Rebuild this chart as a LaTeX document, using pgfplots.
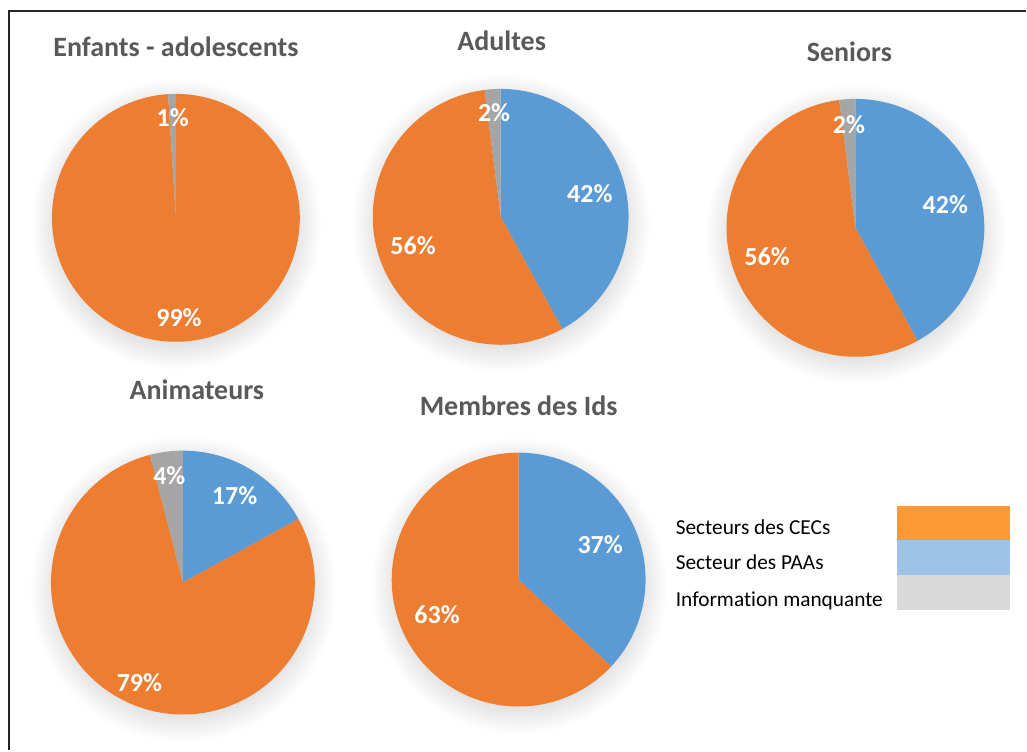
\documentclass[border=0pt]{standalone}
\usepackage{pgfplots}
\pgfplotsset{compat=1.18}
\usepackage{pgfplotstable}
\usepackage{fontspec}
\setmainfont{Carlito}[Ligatures=NoCommon]
\definecolor{cBlue}{HTML}{5B9BD5}
\definecolor{cOrange}{HTML}{ED7D31}
\definecolor{cGray}{HTML}{A5A5A5}
\definecolor{lOrange}{HTML}{FF9933}
\definecolor{lBlue}{HTML}{9DC3E6}
\definecolor{lGray}{HTML}{D9D9D9}
\definecolor{titleGray}{HTML}{595959}
\colorlet{slice0}{cBlue}
\colorlet{slice1}{cOrange}
\colorlet{slice2}{cGray}
\pgfdeclareradialshading{pieshadow}{\pgfpoint{0bp}{0bp}}{color(0bp)=(black!12); color(20bp)=(black!12); color(25bp)=(white); color(50bp)=(white)}

% share: PAA (blue), CEC (orange), missing (gray); lr: label radius factor
\pgfplotstableread{
share lr
0  0.72
99 0.81
1  0.81
}\enfants
\pgfplotstableread{
share lr
42 0.72
56 0.72
2  0.82
}\adultes
\pgfplotstableread{
share lr
42 0.72
56 0.72
2  0.80
}\seniors
\pgfplotstableread{
share lr
17 0.77
79 0.83
4  0.82
}\animateurs
\pgfplotstableread{
share lr
37 0.70
63 0.70
0  0.80
}\membres

\newcommand\drawpie[4]{%
  \shade[shading=pieshadow] (axis cs:#2,{#3-6}) circle[radius={(#4+22)*0.75pt}];
  \xdef\cur{90}%
  \foreach \i in {0,1,2}{%
    \pgfplotstablegetelem{\i}{share}\of{#1}\let\sh\pgfplotsretval
    \pgfmathsetmacro\endang{\cur-3.6*\sh}%
    \ifdim\sh pt>0pt
      \fill[slice\i] (axis cs:#2,#3) -- (axis cs:{#2+#4*cos(\cur)},{#3+#4*sin(\cur)}) arc[start angle=\cur, end angle=\endang, radius={#4*0.75pt}] -- cycle;
    \fi
    \xdef\cur{\endang}%
  }%
  \xdef\cur{90}%
  \foreach \i in {0,1,2}{%
    \pgfplotstablegetelem{\i}{share}\of{#1}\let\sh\pgfplotsretval
    \pgfplotstablegetelem{\i}{lr}\of{#1}\let\lr\pgfplotsretval
    \pgfmathsetmacro\endang{\cur-3.6*\sh}%
    \pgfmathsetmacro\midang{\cur-1.8*\sh}%
    \ifdim\sh pt>0pt
      \node[text=white, font=\bfseries\fontsize{19.5}{22}\selectfont, inner sep=0pt] at (axis cs:{#2+\lr*#4*cos(\midang)},{#3+\lr*#4*sin(\midang)}) {\sh\%};
    \fi
    \xdef\cur{\endang}%
  }%
}

\begin{document}
\begin{tikzpicture}
\begin{axis}[
  x=0.75pt, y=0.75pt,
  xmin=0, xmax=1027, ymin=0, ymax=751,
  hide axis, scale only axis, clip=false,
]
\pgfplotsextra{
  \path (axis cs:0,0) rectangle (axis cs:1027,751);
  \drawpie{\enfants}{176}{533}{124}
  \drawpie{\adultes}{501}{534}{128}
  \drawpie{\seniors}{856}{523}{129}
  \drawpie{\animateurs}{183}{168}{132}
  \drawpie{\membres}{519}{171}{127}
  \tikzset{ttl/.style={text=titleGray, font=\bfseries\fontsize{21}{24}\selectfont, inner sep=0pt}}
  \node[ttl] at (axis cs:176,704) {Enfants - adolescents};
  \node[ttl] at (axis cs:502,710) {Adultes};
  \node[ttl] at (axis cs:850,699) {Seniors};
  \node[ttl] at (axis cs:197,361) {Animateurs};
  \node[ttl] at (axis cs:519,345) {Membres des Ids};
  \fill[lOrange] (axis cs:898,245) rectangle (axis cs:1011,211);
  \fill[lBlue] (axis cs:898,211) rectangle (axis cs:1011,176);
  \fill[lGray] (axis cs:898,176) rectangle (axis cs:1011,141);
  \tikzset{lg/.style={anchor=west, font=\fontsize{16}{18}\selectfont, inner sep=0pt}}
  \node[lg] at (axis cs:676,223) {Secteurs des CECs};
  \node[lg] at (axis cs:676,188) {Secteur des PAAs};
  \node[lg] at (axis cs:676,150) {Information manquante};
  \draw[black!85, line width=1.1pt] (axis cs:9,0) -- (axis cs:9,740) -- (axis cs:1027,740);
}
\end{axis}
\end{tikzpicture}
\end{document}
